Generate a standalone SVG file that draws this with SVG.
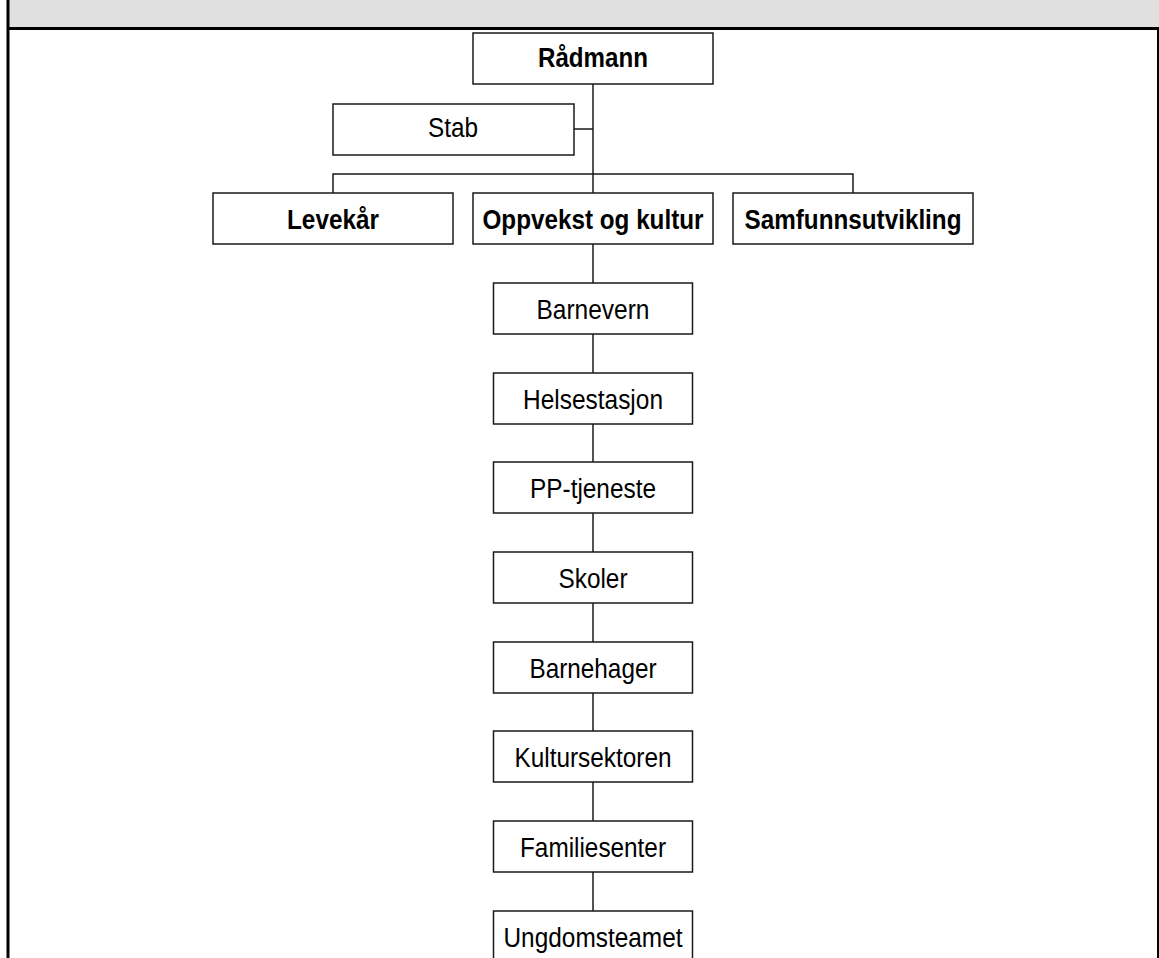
<svg xmlns="http://www.w3.org/2000/svg" width="1159" height="958" viewBox="0 0 1159 958">
<style>
.box{fill:#fff;stroke:#1a1a1a;stroke-width:1.5}
.t{font-family:"Liberation Sans",Arial,sans-serif;font-size:27.5px;fill:#000;text-anchor:middle}
.b{font-weight:bold}
.ln{stroke:#1a1a1a;stroke-width:1.5;fill:none}
</style>
<rect x="0" y="0" width="1159" height="958" fill="#fff"/>
<g id="frame">
<rect x="9" y="0" width="1150" height="28" fill="#e0e0e0"/>
<rect x="9" y="27" width="1150" height="3" fill="#000"/>
<rect x="6.5" y="0" width="3" height="958" fill="#000"/>
<rect x="1157" y="28" width="2" height="930" fill="#000"/>
</g>
<g id="connectors">
<path class="ln" d="M593,84 V193"/>
<path class="ln" d="M574,129 H593"/>
<path class="ln" d="M333,193 V174 H853 V193"/>
<path class="ln" d="M593,244 V911"/>
</g>
<g id="radmann"><rect class="box" x="473" y="33" width="240" height="51"/><text class="t b" x="593" y="67" textLength="110" lengthAdjust="spacingAndGlyphs">Rådmann</text></g>
<g id="stab"><rect class="box" x="333" y="104" width="241" height="51"/><text class="t" x="453" y="137" textLength="50" lengthAdjust="spacingAndGlyphs">Stab</text></g>
<g id="levekar"><rect class="box" x="213" y="193" width="240" height="51"/><text class="t b" x="333" y="229" textLength="92" lengthAdjust="spacingAndGlyphs">Levekår</text></g>
<g id="oppvekst"><rect class="box" x="473" y="193" width="240" height="51"/><text class="t b" x="593" y="229" textLength="221" lengthAdjust="spacingAndGlyphs">Oppvekst og kultur</text></g>
<g id="samfunn"><rect class="box" x="733" y="193" width="240" height="51"/><text class="t b" x="853" y="229" textLength="217" lengthAdjust="spacingAndGlyphs">Samfunnsutvikling</text></g>
<g id="barnevern"><rect class="box" x="493.5" y="283" width="199" height="51"/><text class="t" x="593" y="318.5" textLength="113" lengthAdjust="spacingAndGlyphs">Barnevern</text></g>
<g id="helsestasjon"><rect class="box" x="493.5" y="373" width="199" height="51"/><text class="t" x="593" y="408.5" textLength="140" lengthAdjust="spacingAndGlyphs">Helsestasjon</text></g>
<g id="pp"><rect class="box" x="493.5" y="462" width="199" height="51"/><text class="t" x="593" y="497.5" textLength="126" lengthAdjust="spacingAndGlyphs">PP-tjeneste</text></g>
<g id="skoler"><rect class="box" x="493.5" y="552" width="199" height="51"/><text class="t" x="593" y="587.5" textLength="69" lengthAdjust="spacingAndGlyphs">Skoler</text></g>
<g id="barnehager"><rect class="box" x="493.5" y="642" width="199" height="51"/><text class="t" x="593" y="677.5" textLength="127" lengthAdjust="spacingAndGlyphs">Barnehager</text></g>
<g id="kultur"><rect class="box" x="493.5" y="731" width="199" height="51"/><text class="t" x="593" y="766.5" textLength="157" lengthAdjust="spacingAndGlyphs">Kultursektoren</text></g>
<g id="familie"><rect class="box" x="493.5" y="821" width="199" height="51"/><text class="t" x="593" y="856.5" textLength="146" lengthAdjust="spacingAndGlyphs">Familiesenter</text></g>
<g id="ungdom"><rect class="box" x="493.5" y="911" width="199" height="51"/><text class="t" x="593" y="946.5" textLength="179" lengthAdjust="spacingAndGlyphs">Ungdomsteamet</text></g>
</svg>
